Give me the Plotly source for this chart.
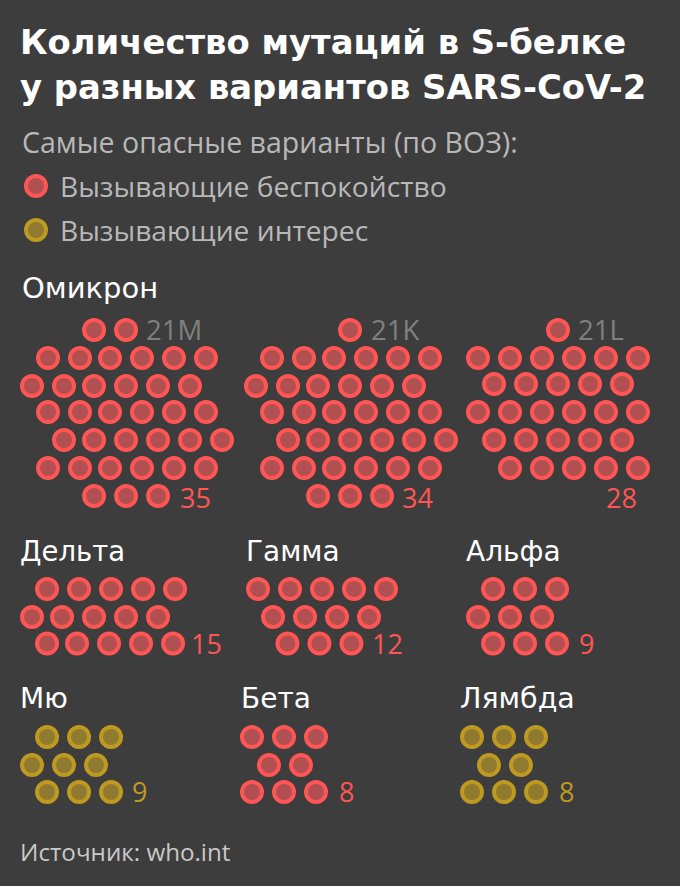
# Mutation counts in the S protein, drawn as a honeycomb of dots
import plotly.graph_objects as go

variants = ["21M", "21K", "21L", "Дельта", "Гамма", "Альфа", "Мю", "Бета", "Лямбда"]
mutations = [35, 34, 28, 15, 12, 9, 9, 8, 8]
concern = [True, True, True, True, True, True, False, True, False]

# dots in each row of each block
row_counts = [
    [2, 6, 6, 6, 6, 6, 3],
    [1, 6, 6, 6, 6, 6, 3],
    [1, 6, 5, 6, 5, 5],
    [5, 5, 5],
    [5, 4, 3],
    [3, 3, 3],
    [3, 3, 3],
    [3, 2, 3],
    [3, 2, 3],
]

# layout, all in page pixels
BG = "#3d3d3d"
RED = "#ff5555"
RED_FILL = "#b05050"
GOLD = "#bf9a20"
GOLD_FILL = "#8f7a30"
BODY = "Open Sans"
HEAD = "DejaVu Sans"
STEP = 32
PINCH = 2
DOT = 20
RING = 4

# left x of column zero, y of first row
origins = [(32, 330), (256, 330), (478, 330), (32, 589), (258, 589), (478, 589), (32, 737), (252, 737), (472, 737)]
# y of each row below the first
row_y = [
    [0, 28, 56, 82, 110, 138, 166],
    [0, 28, 56, 82, 110, 138, 166],
    [0, 28, 54, 82, 110, 138],
    [0, 28, 54.5],
    [0, 28, 54.5],
    [0, 28, 54.5],
    [0, 28, 55],
    [0, 28, 55],
    [0, 28, 55],
]
# how far each row starts from column zero, in dot steps
indents = [
    [1.94, 0.5, 0, 0.5, 1, 0.5, 1.94],
    [2.94, 0.5, 0, 0.5, 1, 0.5, 1.94],
    [2.5, 0, 0.5, 0, 0.5, 1],
    [0.47, 0, 0.47],
    [0, 0.47, 0.92],
    [0.47, 0, 0.47],
    [0.47, 0, 0.47],
    [0, 0.53, 0],
    [0, 0.53, 0],
]
# dot index in a row from which the row sits a little tighter, 99 = never
pinch_at = [
    [99, 2, 2, 2, 1, 2, 99],
    [99, 2, 2, 2, 1, 2, 99],
    [99, 99, 99, 99, 99, 99],
    [99, 1, 1],
    [99, 99, 99],
    [99, 99, 99],
    [99, 99, 99],
    [99, 99, 99],
    [99, 99, 99],
]
# count label next to the last row, and code label next to the first
count_x = [195, 417, 621, 206, 387, 586, 139, 346, 566]
count_y = [497, 497, 497, 643, 643, 643, 791, 791, 791]
code_x = [144, 369, 576]

fig = go.Figure()

for i, name in enumerate(variants):
    ox, oy = origins[i]
    xs = []
    ys = []
    for r, n in enumerate(row_counts[i]):
        for c in range(n):
            shift = PINCH if c >= pinch_at[i][r] else 0
            xs.append(ox + (indents[i][r] + c) * STEP - shift)
            ys.append(oy + row_y[i][r])
    line = RED if concern[i] else GOLD
    fill = RED_FILL if concern[i] else GOLD_FILL
    fig.add_trace(go.Scatter(x=xs, y=ys, mode="markers", name=name, showlegend=False,
                             marker=dict(size=DOT, color=fill, line=dict(color=line, width=RING))))
    fig.add_annotation(x=count_x[i], y=count_y[i], text=str(mutations[i]), xanchor="center", yanchor="middle",
                       showarrow=False, font=dict(family=BODY, size=27, color=line))

# legend dots
fig.add_trace(go.Scatter(x=[36], y=[186], mode="markers", showlegend=False,
                         marker=dict(size=DOT, color=RED_FILL, line=dict(color=RED, width=RING))))
fig.add_trace(go.Scatter(x=[36], y=[230], mode="markers", showlegend=False,
                         marker=dict(size=DOT, color=GOLD_FILL, line=dict(color=GOLD, width=RING))))


def label(x, y, text, family, size, color, weight=400):
    fig.add_annotation(x=x, y=y, text=text, xanchor="left", yanchor="middle", showarrow=False,
                       font=dict(family=family, size=size, color=color, weight=weight))


label(18, 42, "Количество мутаций в S-белке", HEAD, 33.8, "#ffffff", 700)
label(18, 87, "у разных вариантов SARS-CoV-2", HEAD, 33.8, "#ffffff", 700)
label(20, 142, "Самые опасные варианты (по ВОЗ):", BODY, 28.5, "#b8b8b8")
label(58, 186, "Вызывающие беспокойство", BODY, 28.2, "#b8b8b8")
label(58, 230, "Вызывающие интерес", BODY, 28.2, "#b8b8b8")
label(20, 288, "Омикрон", HEAD, 29, "#ffffff")
label(18, 551, "Дельта", HEAD, 27.5, "#ffffff")
label(244, 551, "Гамма", HEAD, 28, "#ffffff")
label(464, 551, "Альфа", HEAD, 28, "#ffffff")
label(18, 698, "Мю", HEAD, 28, "#ffffff")
label(239, 698, "Бета", HEAD, 28, "#ffffff")
label(458, 698, "Лямбда", HEAD, 28.5, "#ffffff")
label(18, 851, "Источник: who.int", BODY, 24.2, "#c8c8c8")

for i, x in enumerate(code_x):
    label(x, 329, variants[i], BODY, 27.5, "#808080")

fig.update_xaxes(range=[0, 680], visible=False, fixedrange=True)
fig.update_yaxes(range=[886, 0], visible=False, fixedrange=True)
fig.update_layout(width=680, height=886, margin=dict(l=0, r=0, t=0, b=0),
                  paper_bgcolor=BG, plot_bgcolor=BG, hovermode=False)

fig.write_html("out.html", config={"displayModeBar": False},
               post_script="document.body.style.margin='0';")
